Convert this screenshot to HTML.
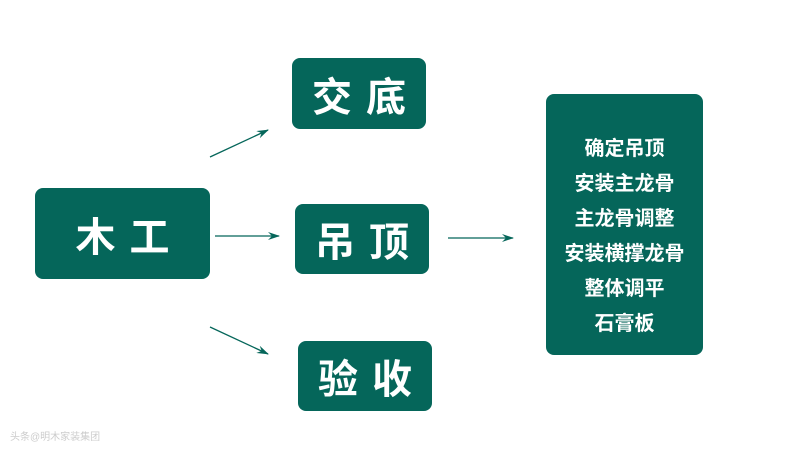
<!DOCTYPE html>
<html><head><meta charset="utf-8"><style>
body{margin:0;width:800px;height:452px;background:#fff;position:relative;overflow:hidden;font-family:"Liberation Sans","Noto Sans CJK SC",sans-serif;}
.b{position:absolute;background:#05665a;border-radius:8px;color:#fff;font-weight:bold;display:flex;align-items:center;justify-content:center;box-sizing:border-box;}
.big{font-size:40px;letter-spacing:14px;text-indent:14px;}
.list{flex-direction:column;font-size:20px;line-height:35px;padding-top:24px;}
.wm{position:absolute;left:10px;top:428px;font-size:10px;color:#ccc;}
</style></head><body>
<div class="b big" style="left:35px;top:188px;width:175px;height:91px;">木工</div>
<div class="b big" style="left:292px;top:58px;width:134px;height:71px;">交底</div>
<div class="b big" style="left:295px;top:204px;width:134px;height:70px;">吊顶</div>
<div class="b big" style="left:298px;top:341px;width:134px;height:70px;">验收</div>
<div class="b list" style="left:546px;top:94px;width:157px;height:261px;">
<div>确定吊顶</div><div>安装主龙骨</div><div>主龙骨调整</div><div>安装横撑龙骨</div><div>整体调平</div><div>石膏板</div></div>
<svg style="position:absolute;left:0;top:0" width="800" height="452">
<defs><marker id="a" markerWidth="12" markerHeight="8" refX="11" refY="4" orient="auto" markerUnits="userSpaceOnUse"><path d="M0,0 L12,4 L0,8 L4,4z" fill="#05665a"/></marker></defs>
<g stroke="#05665a" stroke-width="1.3" marker-end="url(#a)">
<line x1="210" y1="157" x2="268" y2="130"/>
<line x1="215" y1="236" x2="279" y2="236"/>
<line x1="210" y1="327" x2="268" y2="354"/>
<line x1="448" y1="238" x2="513" y2="238"/>
</g></svg>
<div class="wm">头条@明木家装集团</div>
</body></html>
